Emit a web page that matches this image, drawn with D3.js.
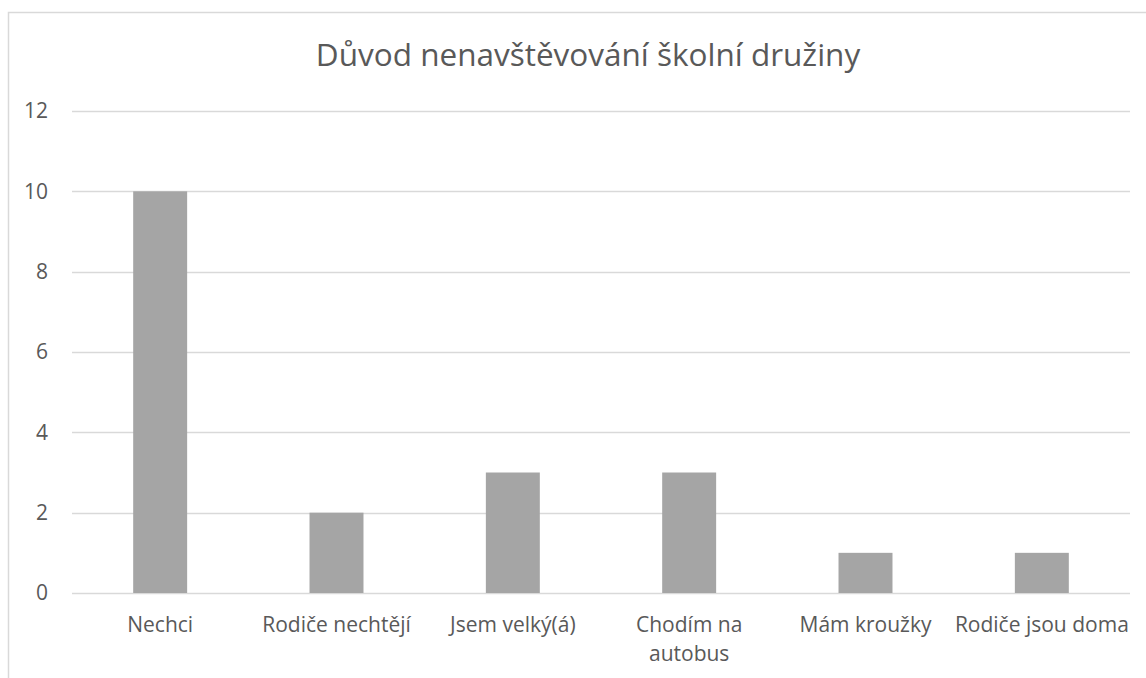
<!DOCTYPE html>
<html>
<head>
<meta charset="utf-8">
<title>Důvod nenavštěvování školní družiny</title>
<style>
  body { margin: 0; background: #fff; }
  svg text { font-family: "Open Sans", "Liberation Sans", sans-serif; fill: #595959; }
</style>
</head>
<body>
<div id="chart"></div>
<script src="https://cdn.jsdelivr.net/npm/d3@7/dist/d3.min.js"></script>
<script>
var categories = ["Nechci", "Rodiče nechtějí", "Jsem velký(á)", "Chodím na autobus", "Mám kroužky", "Rodiče jsou doma"];
var values = [10, 2, 3, 3, 1, 1];
var yTicks = [0, 2, 4, 6, 8, 10, 12];
var title = "Důvod nenavštěvování školní družiny";

var W = 1146, H = 678;
var margin = {top: 111, right: 16, bottom: 85, left: 72};
var width = W - margin.left - margin.right,
    height = H - margin.top - margin.bottom;

var svg = d3.select('#chart').append('svg')
    .attr('width', W)
    .attr('height', H);

// chart border (runs off right and bottom)
svg.append('path')
    .attr('d', 'M8.5,' + H + 'V12.5H' + W)
    .attr('fill', 'none')
    .attr('stroke', '#d9d9d9')
    .attr('stroke-width', 1.5);

svg.append('text')
    .attr('x', 588)
    .attr('y', 66)
    .attr('text-anchor', 'middle')
    .style('font-size', '31.5px')
    .text(title);

var g = svg.append('g')
    .attr('transform', 'translate(' + [margin.left, margin.top] + ')');

var x = d3.scaleBand()
    .domain(categories)
    .range([0, width])
    .paddingInner(0.694)
    .paddingOuter(0.347);

var y = d3.scaleLinear()
    .domain([0, 12])
    .range([height, 0]);

// gridlines
g.selectAll('.grid')
    .data(yTicks)
  .enter().append('line')
    .attr('class', 'grid')
    .attr('x1', 0)
    .attr('x2', width)
    .attr('y1', d => Math.round(y(d)) + 0.5)
    .attr('y2', d => Math.round(y(d)) + 0.5)
    .attr('stroke', '#d9d9d9')
    .attr('stroke-width', 1.3);

// y axis labels
var yAxis = d3.axisLeft(y)
    .tickValues(yTicks)
    .tickSize(0)
    .tickPadding(24);
g.append('g')
    .attr('class', 'y axis')
    .call(yAxis)
    .call(s => s.select('.domain').remove())
    .selectAll('text')
    .style('font-size', '21px')
    .attr('fill', '#595959');

// bars
g.selectAll('.bar')
    .data(values)
  .enter().append('rect')
    .attr('class', 'bar')
    .attr('x', (d, i) => x(categories[i]))
    .attr('width', x.bandwidth())
    .attr('y', d => y(d))
    .attr('height', d => y(0) - y(d))
    .attr('fill', '#a5a5a5');

// x axis labels
var xAxis = d3.axisBottom(x)
    .tickSize(0)
    .tickPadding(24);
g.append('g')
    .attr('class', 'x axis')
    .attr('transform', 'translate(0,' + height + ')')
    .call(xAxis)
    .call(s => s.select('.domain').remove())
    .selectAll('text')
    .style('font-size', '21px')
    .attr('fill', '#595959')
    .call(wrap, 180);

function wrap(texts, maxW) {
  texts.each(function() {
    var t = d3.select(this);
    if (this.getComputedTextLength() <= maxW) return;
    var words = t.text().split(' ');
    var dy = t.attr('dy');
    t.text(null);
    var lines = [[]];
    var tsp = t.append('tspan').attr('x', 0).attr('dy', dy);
    words.forEach(function(w) {
      var cur = lines[lines.length - 1];
      cur.push(w);
      tsp.text(cur.join(' '));
      if (tsp.node().getComputedTextLength() > maxW && cur.length > 1) {
        cur.pop();
        tsp.text(cur.join(' '));
        lines.push([w]);
        tsp = t.append('tspan').attr('x', 0).attr('dy', '1.4em').text(w);
      }
    });
  });
}
</script>
</body>
</html>
